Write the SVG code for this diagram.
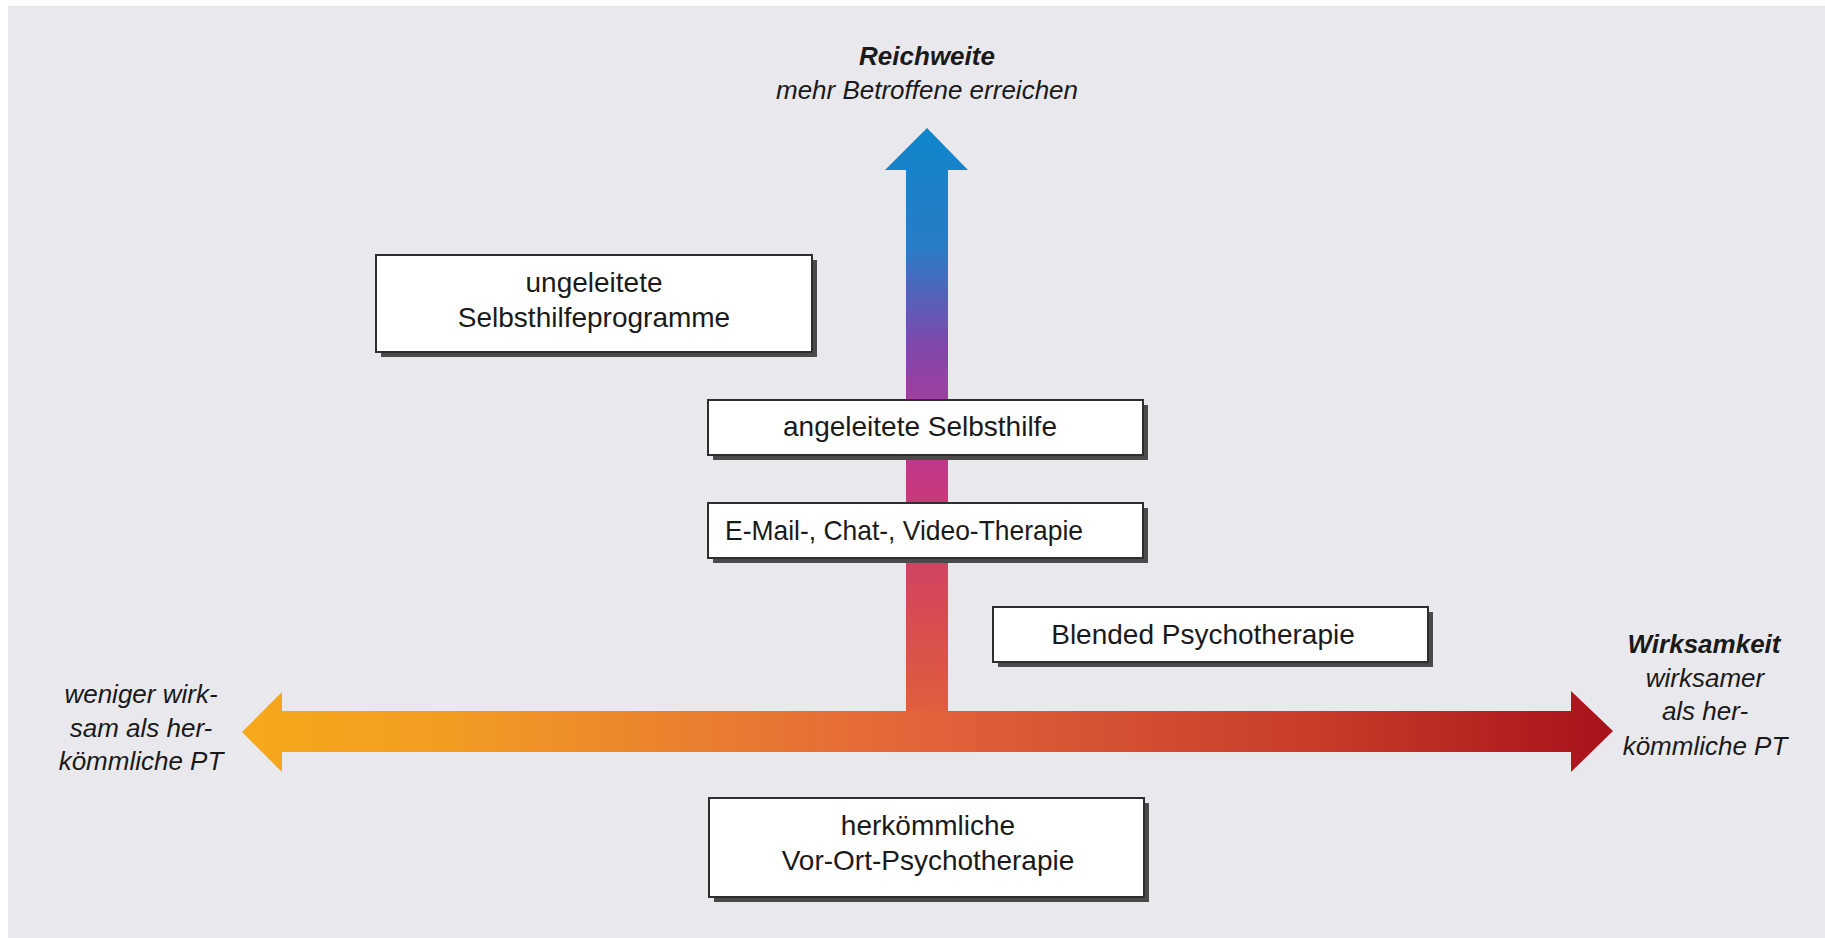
<svg xmlns="http://www.w3.org/2000/svg" width="1825" height="938" viewBox="0 0 1825 938">
<defs>
<linearGradient id="gv" gradientUnits="userSpaceOnUse" x1="0" y1="128" x2="0" y2="731">
<stop offset="0" stop-color="#0f86cc"/>
<stop offset="0.2" stop-color="#2a7cc6"/>
<stop offset="0.36" stop-color="#8048ac"/>
<stop offset="0.5" stop-color="#b2389a"/>
<stop offset="0.6" stop-color="#c7387e"/>
<stop offset="0.8" stop-color="#d84a52"/>
<stop offset="1" stop-color="#e2623a"/>
</linearGradient>
<linearGradient id="gh" gradientUnits="userSpaceOnUse" x1="242" y1="0" x2="1613" y2="0">
<stop offset="0" stop-color="#f6a81a"/>
<stop offset="0.15" stop-color="#f29c22"/>
<stop offset="0.5" stop-color="#e2633a"/>
<stop offset="0.78" stop-color="#c93c2a"/>
<stop offset="1" stop-color="#a8121a"/>
</linearGradient>
<style>
.box{fill:#ffffff;stroke:#2e2e2e;stroke-width:2}
.sh{fill:#4a4a4a}
.t{font-family:"Liberation Sans",Arial,sans-serif;font-size:28px;fill:#1a1a1a;text-anchor:middle}
.li{font-family:"Liberation Sans",Arial,sans-serif;font-size:26px;font-style:italic;fill:#1a1a1a;text-anchor:middle}
.lb{font-weight:bold}
</style>
</defs>
<rect x="0" y="0" width="1825" height="938" fill="#ffffff"/>
<rect x="8" y="6" width="1817" height="932" fill="#e9e8ec"/>

<g id="connectors">
<polygon points="242,732 282,692 282,711 1571,711 1571,691 1613,731 1571,772 1571,752 282,752 282,772" fill="url(#gh)"/>
<polygon points="927,128 968,170 948,170 948,711 906,711 906,170 885,170" fill="url(#gv)"/>
</g>

<g id="label-reichweite">
<text class="li lb" x="927" y="65">Reichweite</text>
<text class="li" x="927" y="99">mehr Betroffene erreichen</text>
</g>

<g id="label-weniger">
<text class="li" x="141" y="703">weniger wirk-</text>
<text class="li" x="141" y="737">sam als her-</text>
<text class="li" x="141" y="770">kömmliche PT</text>
</g>

<g id="label-wirksamkeit">
<text class="li lb" x="1704" y="653">Wirksamkeit</text>
<text class="li" x="1705" y="687">wirksamer</text>
<text class="li" x="1705" y="720">als her-</text>
<text class="li" x="1705" y="755">kömmliche PT</text>
</g>

<g id="node-ungeleitete">
<rect class="sh" x="381" y="260" width="436" height="97"/>
<rect class="box" x="376" y="255" width="436" height="97"/>
<text class="t" x="594" y="292">ungeleitete</text>
<text class="t" x="594" y="327">Selbsthilfeprogramme</text>
</g>

<g id="node-angeleitete">
<rect class="sh" x="713" y="405" width="435" height="55"/>
<rect class="box" x="708" y="400" width="435" height="55"/>
<text class="t" x="920" y="436">angeleitete Selbsthilfe</text>
</g>

<g id="node-email">
<rect class="sh" x="713" y="508" width="435" height="55"/>
<rect class="box" x="708" y="503" width="435" height="55"/>
<text class="t" x="904" y="540" textLength="358" lengthAdjust="spacingAndGlyphs">E-Mail-, Chat-, Video-Therapie</text>
</g>

<g id="node-blended">
<rect class="sh" x="998" y="612" width="435" height="55"/>
<rect class="box" x="993" y="607" width="435" height="55"/>
<text class="t" x="1203" y="644">Blended Psychotherapie</text>
</g>

<g id="node-herkoemmliche">
<rect class="sh" x="714" y="803" width="435" height="99"/>
<rect class="box" x="709" y="798" width="435" height="99"/>
<text class="t" x="928" y="835">herkömmliche</text>
<text class="t" x="928" y="870">Vor-Ort-Psychotherapie</text>
</g>
</svg>
